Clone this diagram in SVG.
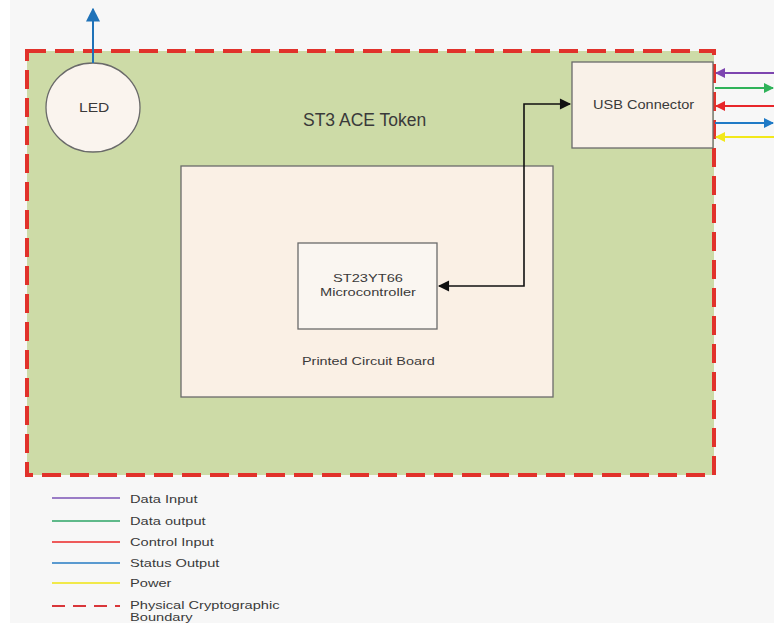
<svg xmlns="http://www.w3.org/2000/svg" width="774" height="623" viewBox="0 0 774 623">
<defs>
<style>
text{font-family:"Liberation Sans",Arial,sans-serif;fill:#3a3a3a;}
.box{stroke:#6a6a6a;stroke-width:1.3;}
.lg{stroke-width:2;}
.s{font-size:11px;}
</style>
<marker id="ab" viewBox="0 0 10 10" refX="9" refY="5" markerWidth="7" markerHeight="8" orient="auto-start-reverse"><path d="M0,0 L10,5 L0,10 z" fill="#1f72b8"/></marker>
<marker id="ak" viewBox="0 0 10 10" refX="9" refY="5" markerWidth="8" markerHeight="7" orient="auto-start-reverse"><path d="M0,0 L10,5 L0,10 z" fill="#111"/></marker>
<marker id="ap" viewBox="0 0 10 10" refX="9" refY="5" markerWidth="7" markerHeight="5" orient="auto"><path d="M0,0 L10,5 L0,10 z" fill="#7d45b0"/></marker>
<marker id="ag" viewBox="0 0 10 10" refX="9" refY="5" markerWidth="7" markerHeight="5" orient="auto"><path d="M0,0 L10,5 L0,10 z" fill="#2fb35a"/></marker>
<marker id="ar" viewBox="0 0 10 10" refX="9" refY="5" markerWidth="7" markerHeight="5" orient="auto"><path d="M0,0 L10,5 L0,10 z" fill="#e8262a"/></marker>
<marker id="abl" viewBox="0 0 10 10" refX="9" refY="5" markerWidth="7" markerHeight="5" orient="auto"><path d="M0,0 L10,5 L0,10 z" fill="#1f7ac6"/></marker>
<marker id="ay" viewBox="0 0 10 10" refX="9" refY="5" markerWidth="7" markerHeight="5" orient="auto"><path d="M0,0 L10,5 L0,10 z" fill="#f2e81a"/></marker>
</defs>
<rect x="0" y="0" width="774" height="623" fill="#f7f7f7"/>
<rect x="0" y="0" width="10" height="623" fill="#ffffff"/>
<g id="boundary">
<rect x="27" y="51" width="687" height="424" fill="#cddba7" stroke="#e1322b" stroke-width="4" stroke-dasharray="19,9"/>
<text x="303" y="126" font-size="17.5" fill="#4a4f45">ST3 ACE Token</text>
</g>
<g id="led">
<ellipse cx="93" cy="107.5" rx="47" ry="44.5" fill="#faf4ee" class="box"/>
<text transform="translate(79,112) scale(1.3,1)" font-size="12">LED</text>
</g>
<g id="usb">
<rect x="572" y="62" width="141" height="86" fill="#f9f1e8" class="box"/>
<text transform="translate(593,109) scale(1.12,1)" font-size="13">USB Connector</text>
</g>
<g id="pcb">
<rect x="181" y="166" width="372" height="231" fill="#faf0e5" class="box"/>
<text transform="translate(302,365) scale(1.31,1)" class="s">Printed Circuit Board</text>
</g>
<g id="mcu">
<rect x="298" y="243" width="139" height="86" fill="#faf6f1" class="box"/>
<text transform="translate(333,282) scale(1.33,1)" class="s">ST23YT66</text>
<text transform="translate(320,296) scale(1.33,1)" class="s">Microcontroller</text>
</g>
<g id="connectors" fill="none">
<path d="M93,63 V9" stroke="#1f72b8" stroke-width="2" marker-end="url(#ab)"/>
<path d="M439,286 H524 V104 H570" stroke="#111" stroke-width="1.6" marker-start="url(#ak)" marker-end="url(#ak)"/>
<path d="M774,73 H716" stroke="#7d45b0" stroke-width="2" marker-end="url(#ap)"/>
<path d="M715,88 H773" stroke="#2fb35a" stroke-width="2" marker-end="url(#ag)"/>
<path d="M774,106 H716" stroke="#e8262a" stroke-width="2" marker-end="url(#ar)"/>
<path d="M715,123 H773" stroke="#1f7ac6" stroke-width="2" marker-end="url(#abl)"/>
<path d="M774,137 H716" stroke="#f2e81a" stroke-width="2" marker-end="url(#ay)"/>
</g>
<g id="legend">
<line x1="52" y1="498" x2="120" y2="498" stroke="#9a7cc6" class="lg"/>
<line x1="52" y1="521" x2="120" y2="521" stroke="#5fb98a" class="lg"/>
<line x1="52" y1="542" x2="120" y2="542" stroke="#ee5a5a" class="lg"/>
<line x1="52" y1="563" x2="120" y2="563" stroke="#5a9ad0" class="lg"/>
<line x1="52" y1="583" x2="120" y2="583" stroke="#f1e94a" class="lg"/>
<line x1="52" y1="606" x2="120" y2="606" stroke="#d9363a" class="lg" stroke-dasharray="13,8"/>
<text transform="translate(130,503) scale(1.33,1)" class="s">Data Input</text>
<text transform="translate(130,525) scale(1.33,1)" class="s">Data output</text>
<text transform="translate(130,546) scale(1.33,1)" class="s">Control Input</text>
<text transform="translate(130,567) scale(1.33,1)" class="s">Status Output</text>
<text transform="translate(130,587) scale(1.33,1)" class="s">Power</text>
<text transform="translate(130,609) scale(1.33,1)" class="s">Physical Cryptographic</text>
<text transform="translate(130,621) scale(1.33,1)" class="s">Boundary</text>
</g>
</svg>
